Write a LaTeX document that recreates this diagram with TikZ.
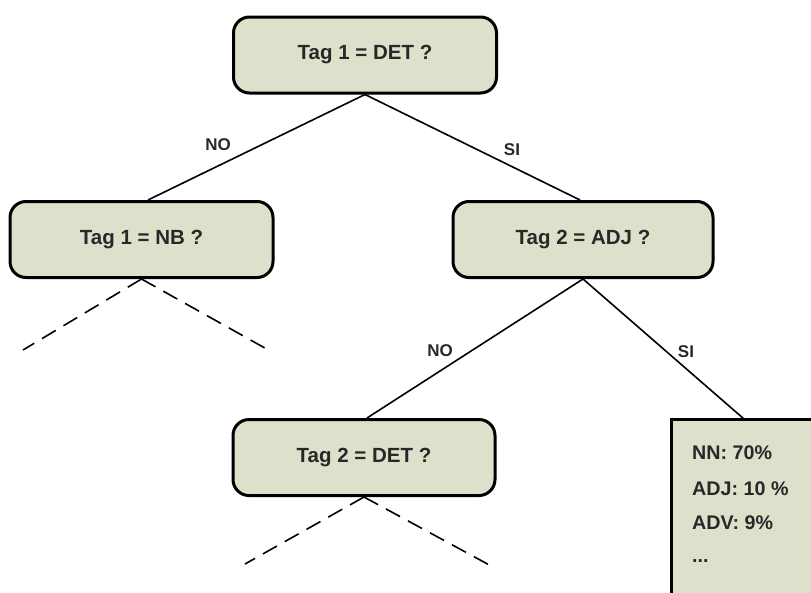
\documentclass[tikz,border=0pt]{standalone}
\usepackage{fontspec}
\setmainfont{Liberation Sans}
\begin{document}
\begin{tikzpicture}[x=1pt,y=-1pt,
  box/.style={draw=black, line width=3pt, fill=boxfill, rounded corners=16pt,
    minimum width=#1, minimum height=76pt, inner sep=0pt,
    font=\fontsize{20.5}{24}\selectfont\bfseries, text=txt},
  box/.default=263pt,
  edge/.style={line width=1.6pt, draw=black},
  dashedge/.style={line width=1.6pt, draw=black, dash pattern=on 16pt off 9pt},
  lbl/.style={font=\fontsize{17}{20}\selectfont\bfseries, text=txt},
  leaftxt/.style={font=\fontsize{19.7}{23}\selectfont\bfseries, text=txt, anchor=west, inner sep=0pt}]
\definecolor{boxfill}{RGB}{222,224,204}
\definecolor{txt}{RGB}{40,40,40}
\useasboundingbox (0,0) rectangle (811,592);
\node[box=263pt] (t1det) at (365,55) {Tag 1 = DET ?};
\node[box=263pt] (t1nb) at (141.5,239.5) {Tag 1 = NB ?};
\node[box=260pt] (t2adj) at (583,239.5) {Tag 2 = ADJ ?};
\node[box=262pt] (t2det) at (364,457.5) {Tag 2 = DET ?};
\draw[line width=3pt, fill=boxfill] (671,640) -- (671,419) -- (830,419) -- (830,640) -- cycle;
\node[leaftxt] (l1) at (692,453) {NN: 70\%};
\node[leaftxt] (l2) at (692,489) {ADJ: 10 \%};
\node[leaftxt] (l3) at (692,523) {ADV: 9\%};
\node[leaftxt] (l4) at (692,561) {...};
\coordinate (leaftop) at (744,419);
\coordinate (a1) at (23,350);
\coordinate (a2) at (272,352);
\coordinate (b1) at (245,564);
\coordinate (b2) at (493,567);
\draw[edge] (t1det.south) -- (t1nb.north -| 148,0);
\draw[edge] (t1det.south) -- (t2adj.north -| 580,0);
\draw[edge] (t2adj.south) -- (t2det.north -| 367,0);
\draw[edge] (t2adj.south) -- (leaftop);
\draw[dashedge] (t1nb.south) -- (a1);
\draw[dashedge] (t1nb.south) -- (a2);
\draw[dashedge] (t2det.south) -- (b1);
\draw[dashedge] (t2det.south) -- (b2);
\node[lbl] (no1) at (218,145) {NO};
\node[lbl] (si1) at (512,150) {SI};
\node[lbl] (no2) at (440,351) {NO};
\node[lbl] (si2) at (686,352) {SI};
\end{tikzpicture}
\end{document}
